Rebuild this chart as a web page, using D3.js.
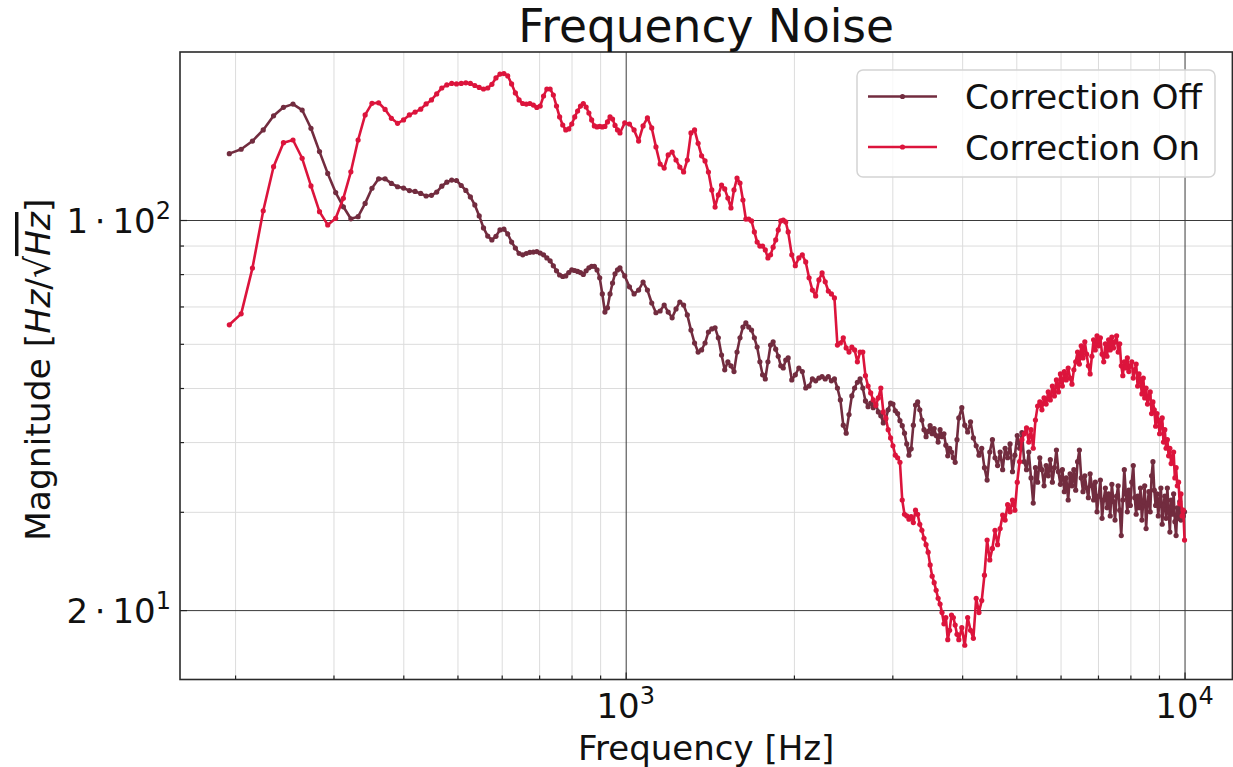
<!DOCTYPE html>
<html>
<head>
<meta charset="utf-8">
<script src="https://cdn.jsdelivr.net/npm/d3@7"></script>
<style>
  body { margin: 0; background: #fff; }
  svg { display: block; font-family: "DejaVu Sans", sans-serif; }
</style>
</head>
<body>
<svg id="drawing_region"></svg>
<script>
// FFT bin width and the bins kept for each segment of the spectrum
const binHz = 10000 / 1024;
const binStart = [20, 102, 203, 404];
const binStep = [1, 2, 3, 5];

// Correction Off magnitudes [Hz/sqrt(Hz)]
const offLow = [131.5, 133.9, 138.5, 145.0, 153.7, 159.2, 161.3, 157.4, 146.0, 132.6,
  121.2, 112.0, 105.6, 100.5, 101.4, 107.1, 114.0, 118.5, 118.5, 116.3,
  114.7, 114.1, 112.9, 112.5, 111.6, 110.4, 110.7, 112.2, 115.0, 116.9,
  117.9, 117.7, 115.3, 113.0, 110.0, 106.4, 101.7, 96.8, 93.6, 92.1,
  93.5, 96.0, 96.3, 94.4, 91.3, 89.1, 87.1, 86.6, 87.1, 87.5,
  87.6, 87.8, 87.2, 86.6, 85.5, 84.5, 82.8, 81.1, 79.7, 79.2,
  79.4, 80.5, 81.4, 81.2, 80.9, 80.5, 79.9, 81.1, 82.1, 82.6,
  82.6, 81.4, 78.8, 73.7, 68.4, 69.6, 73.7, 77.1, 80.1, 81.4, 82.1];
const offMid = [79.4, 75.9, 73.7, 74.9, 77.4, 74.9, 71.0, 68.2, 68.7, 70.4,
  68.4, 66.8, 69.3, 71.3, 70.4, 67.6, 63.5, 60.2, 58.0, 58.5,
  60.2, 63.0, 63.8, 64.1, 61.5, 57.3, 53.9, 55.7, 54.8, 53.5,
  58.0, 61.5, 64.3, 65.4, 64.3, 63.5, 61.5, 59.2, 55.7, 52.8,
  51.9, 55.7, 59.7, 60.5, 58.7, 57.0, 54.8, 54.3, 56.1, 56.6];
const offUpper = [51.7, 52.8, 54.3, 53.5, 50.0, 50.4, 51.9, 51.5, 52.1, 52.4,
  51.9, 52.4, 51.5, 51.9, 50.0, 47.6, 42.9, 41.5, 44.8, 48.4,
  50.0, 51.2, 51.9, 50.0, 47.4, 46.3, 47.0, 46.1, 46.8, 45.3,
  44.6, 43.3, 44.0, 45.7, 47.0, 46.8, 45.5, 45.0, 43.7, 42.8,
  41.5, 39.7, 37.9, 38.9, 42.9, 46.6, 47.2, 45.7, 43.8, 42.1,
  40.9, 41.8, 42.8, 41.4, 42.3, 41.1, 40.0, 42.1, 40.9, 41.4,
  39.5, 37.8, 39.0, 38.4, 37.5, 36.8, 40.4];
const offHigh = [44.2, 46.1, 42.9, 41.7, 43.5, 40.7, 39.4, 37.9, 39.0, 36.0,
  34.2, 38.4, 40.4, 37.5, 36.3, 38.4, 35.7, 39.0, 37.5, 39.7,
  35.4, 37.9, 41.1, 39.0, 41.6, 36.9, 35.7, 38.4, 34.5, 31.1,
  36.0, 33.9, 37.5, 35.7, 33.4, 36.3, 34.8, 37.2, 33.9, 36.0,
  38.7, 35.4, 33.6, 35.7, 32.6, 34.5, 31.5, 35.1, 33.4, 35.7,
  32.8, 36.9, 38.7, 34.5, 32.6, 34.8, 33.1, 31.8, 35.1, 33.4,
  31.5, 33.9, 30.0, 32.0, 34.2, 29.2, 31.5, 33.1, 30.5, 32.3,
  29.5, 33.6, 31.3, 29.0, 32.0, 33.4, 30.2, 27.2, 31.5, 35.7,
  32.3, 30.0, 32.8, 30.8, 33.9, 36.3, 31.8, 29.7, 32.0, 30.5,
  33.1, 29.0, 31.3, 33.4, 28.0, 31.0, 32.6, 30.0, 34.8, 36.9,
  32.8, 30.8, 32.3, 29.5, 31.5, 33.1, 28.5, 30.8, 32.0, 29.2,
  33.1, 30.2, 27.6, 31.5, 29.7, 32.3, 28.8, 27.2, 30.5, 29.2,
  31.3, 29.0, 30.2, 29.5, 30.0];

// Correction On magnitudes [Hz/sqrt(Hz)]
const onLow = [64.9, 67.9, 82.0, 103.9, 124.6, 137.6, 139.1, 129.0, 115.1, 103.5,
  98.0, 100.7, 109.4, 122.0, 139.1, 154.3, 161.8, 162.2, 157.8, 152.1,
  149.0, 151.1, 154.3, 156.1, 158.0, 161.4, 164.1, 168.2, 172.4, 174.6,
  175.7, 175.3, 175.7, 176.1, 175.7, 174.2, 172.8, 171.7, 172.4, 175.0,
  179.7, 182.6, 183.0, 181.2, 175.3, 168.9, 164.1, 161.7, 161.3, 161.7,
  160.7, 159.1, 160.0, 166.8, 171.7, 171.7, 167.5, 160.0, 153.0, 148.0,
  145.0, 145.6, 148.6, 153.0, 156.8, 160.0, 161.7, 159.4, 155.5, 151.1,
  147.4, 146.8, 147.1, 146.8, 147.1, 149.9, 153.0, 151.7, 147.7, 145.0, 143.2];
const onMid = [149.3, 148.6, 145.0, 138.5, 147.4, 152.4, 146.2, 135.2, 126.0, 123.9,
  130.8, 132.4, 128.1, 124.4, 121.9, 128.1, 143.2, 145.0, 137.2, 130.3,
  127.6, 121.9, 113.2, 105.5, 110.9, 115.5, 113.7, 109.5, 105.1, 113.2,
  118.9, 116.5, 108.6, 100.4, 100.4, 99.6, 95.2, 91.3, 89.8, 89.8,
  88.4, 85.5, 86.6, 89.4, 92.1, 96.0, 99.6, 100.0, 99.2, 95.2];
const onUpper = [86.6, 82.8, 85.5, 86.6, 84.1, 78.8, 74.9, 73.1, 78.1, 80.4,
  77.5, 74.6, 73.7, 72.5, 59.7, 60.2, 61.5, 59.0, 58.0, 59.2,
  58.5, 55.7, 58.0, 58.0, 52.6, 50.4, 49.0, 47.6, 46.5, 48.0,
  50.0, 45.3, 44.2, 42.1, 40.7, 39.4, 37.9, 37.5, 36.8, 31.5,
  29.7, 29.5, 29.1, 29.4, 28.7, 30.2, 29.7, 28.5, 27.8, 26.9,
  26.2, 25.4, 24.1, 23.0, 22.4, 21.7, 21.0, 20.5, 19.8, 18.9,
  19.4, 17.7, 18.4, 19.6, 19.4, 18.8, 18.1];
const onHigh = [17.7, 18.6, 17.3, 19.4, 18.4, 17.8, 21.0, 19.8, 20.8, 23.1,
  26.7, 24.6, 25.8, 27.8, 26.2, 28.0, 29.6, 29.0, 30.9, 30.0,
  31.5, 30.2, 33.9, 36.9, 40.4, 41.4, 42.4, 40.0, 42.1, 39.0,
  43.8, 46.4, 47.2, 45.7, 48.0, 46.8, 49.2, 47.6, 50.4, 48.4,
  51.7, 49.2, 53.0, 50.4, 53.5, 51.7, 54.3, 52.1, 50.8, 53.9,
  55.7, 58.0, 55.2, 59.5, 56.6, 60.5, 57.5, 54.8, 53.0, 57.0,
  61.0, 58.5, 62.0, 59.5, 61.5, 57.5, 55.7, 60.0, 57.0, 61.0,
  58.5, 61.7, 59.0, 60.5, 62.0, 58.0, 60.0, 54.8, 52.6, 55.7,
  54.3, 56.6, 53.5, 54.8, 55.7, 52.1, 53.9, 55.2, 50.4, 53.0,
  51.3, 48.8, 52.1, 48.0, 50.0, 46.8, 48.4, 49.2, 45.0, 47.2,
  45.7, 42.7, 45.0, 43.8, 41.4, 43.1, 44.2, 40.0, 42.1, 39.0,
  40.4, 37.8, 39.0, 36.6, 37.5, 38.4, 34.5, 36.0, 33.4, 33.9,
  31.0, 32.3, 29.5, 30.2, 26.7];

const seriesNames = ["Correction Off", "Correction On"];
const seriesColors = ["#722c3f", "#dc143c"];

// axes
const xDomain = [159.4, 12180];
const yDomain = [15.02, 200];
const xMajorTicks = [1000, 10000];
const xTickLabels = [["10", "3"], ["10", "4"]];
const xMinorTicks = [200, 300, 400, 500, 600, 700, 800, 900, 2000, 3000, 4000, 5000, 6000, 7000, 8000, 9000];
const yMajorTicks = [20, 100];
const yTickLabels = [["2\u2009\u22c5\u200910", "1"], ["1\u2009\u22c5\u200910", "2"]];
const yMinorTicks = [30, 40, 50, 60, 70, 80, 90];

function buildSeries(segments) {
    let pts = [];
    segments.forEach((vals, i) => {
        vals.forEach((v, j) => {
            pts.push({ f: (binStart[i] + j * binStep[i]) * binHz, v: v });
        });
    });
    return pts;
}

const data = [
    buildSeries([offLow, offMid, offUpper, offHigh]),
    buildSeries([onLow, onMid, onUpper, onHigh])
];

var config = {
    width: 1233,
    height: 767,
    margin: { top: 52, right: 0.6, bottom: 87.5, left: 180 }
};

const W = config.width, H = config.height, m = config.margin;
const iw = W - m.left - m.right;
const ih = H - m.top - m.bottom;
const fs = 34;

const svg = d3.select('#drawing_region')
    .attr('width', W)
    .attr('height', H);

const chart = svg.append('g')
    .attr('transform', `translate(${m.left}, ${m.top})`);

const xscale = d3.scaleLog().domain(xDomain).range([0, iw]);
const yscale = d3.scaleLog().domain(yDomain).range([ih, 0]);

// grid lines
function gridStyle(g, color) {
    g.select('.domain').remove();
    g.selectAll('.tick line').attr('stroke', color).attr('stroke-width', 1);
}
chart.append('g')
    .call(d3.axisBottom(xscale).tickValues(xMinorTicks).tickSize(ih).tickFormat(''))
    .call(g => gridStyle(g, '#dcdcdc'));
chart.append('g')
    .call(d3.axisLeft(yscale).tickValues(yMinorTicks).tickSize(-iw).tickFormat(''))
    .call(g => gridStyle(g, '#dcdcdc'));
chart.append('g')
    .call(d3.axisBottom(xscale).tickValues(xMajorTicks).tickSize(ih).tickFormat(''))
    .call(g => gridStyle(g, '#3a3a3a'));
chart.append('g')
    .call(d3.axisLeft(yscale).tickValues(yMajorTicks).tickSize(-iw).tickFormat(''))
    .call(g => gridStyle(g, '#3a3a3a'));

// inward ticks
function tickStyle(g) {
    g.select('.domain').remove();
    g.selectAll('.tick line').attr('stroke', '#222').attr('stroke-width', 1.2);
}
chart.append('g').attr('transform', `translate(0, ${ih})`)
    .call(d3.axisBottom(xscale).tickValues(xMinorTicks).tickSizeInner(-4).tickSizeOuter(0).tickFormat(''))
    .call(tickStyle);
chart.append('g').attr('transform', `translate(0, ${ih})`)
    .call(d3.axisBottom(xscale).tickValues(xMajorTicks).tickSizeInner(-7).tickSizeOuter(0).tickFormat(''))
    .call(tickStyle);
chart.append('g')
    .call(d3.axisLeft(yscale).tickValues(yMinorTicks).tickSizeInner(-4).tickSizeOuter(0).tickFormat(''))
    .call(tickStyle);
chart.append('g')
    .call(d3.axisLeft(yscale).tickValues(yMajorTicks).tickSizeInner(-7).tickSizeOuter(0).tickFormat(''))
    .call(tickStyle);

// tick labels with superscripts
const xl = chart.append('g').selectAll('text')
    .data(xMajorTicks)
    .join('text')
    .attr('x', d => xscale(d))
    .attr('y', ih + 38.5)
    .attr('text-anchor', 'middle')
    .attr('font-size', fs)
    .attr('fill', '#111');
xl.append('tspan').text((d, i) => xTickLabels[i][0]);
xl.append('tspan').attr('dy', -14).attr('font-size', 24).text((d, i) => xTickLabels[i][1]);

const yl = chart.append('g').selectAll('text')
    .data(yMajorTicks)
    .join('text')
    .attr('x', -9)
    .attr('y', d => yscale(d) + 12.5)
    .attr('text-anchor', 'end')
    .attr('font-size', fs)
    .attr('fill', '#111');
yl.append('tspan').text((d, i) => yTickLabels[i][0]);
yl.append('tspan').attr('dy', -14).attr('font-size', 24).text((d, i) => yTickLabels[i][1]);

// series
const line = d3.line()
    .x(d => xscale(d.f))
    .y(d => yscale(d.v));

data.forEach((pts, i) => {
    const g = chart.append('g');
    g.append('path')
        .datum(pts)
        .attr('d', line)
        .attr('fill', 'none')
        .attr('stroke', seriesColors[i])
        .attr('stroke-width', 2.6)
        .attr('stroke-linejoin', 'round');
    g.selectAll('circle')
        .data(pts)
        .join('circle')
        .attr('cx', d => xscale(d.f))
        .attr('cy', d => yscale(d.v))
        .attr('r', 2.6)
        .attr('fill', seriesColors[i]);
});

// spines
chart.append('rect')
    .attr('width', iw)
    .attr('height', ih)
    .attr('fill', 'none')
    .attr('stroke', '#2a2a2a')
    .attr('stroke-width', 1.6);

// title and axis labels
svg.append('text')
    .attr('x', m.left + iw / 2)
    .attr('y', 42)
    .attr('text-anchor', 'middle')
    .attr('font-size', 45.5)
    .attr('fill', '#111')
    .text('Frequency Noise');

svg.append('text')
    .attr('x', m.left + iw / 2)
    .attr('y', 760)
    .attr('text-anchor', 'middle')
    .attr('font-size', fs)
    .attr('fill', '#111')
    .text('Frequency [Hz]');

const ylab = svg.append('text')
    .attr('transform', `translate(50, ${m.top + ih / 2 + 4}) rotate(-90)`)
    .attr('text-anchor', 'middle')
    .attr('font-size', 34.5)
    .attr('fill', '#111');
ylab.append('tspan').text('Magnitude [');
ylab.append('tspan').attr('font-style', 'italic').text('Hz');
ylab.append('tspan').text('/\u221a');
ylab.append('tspan').attr('font-style', 'italic').style('text-decoration', 'overline').text('Hz');
ylab.append('tspan').text(']');

// legend
const legend = svg.append('g');
legend.append('rect')
    .attr('x', 857).attr('y', 70)
    .attr('width', 358).attr('height', 107)
    .attr('rx', 6)
    .attr('fill', 'white').attr('fill-opacity', 0.8)
    .attr('stroke', '#d4d4d4').attr('stroke-width', 1.5);

seriesNames.forEach((name, i) => {
    const ly = 96.5 + i * 50.5;
    legend.append('line')
        .attr('x1', 868).attr('x2', 937)
        .attr('y1', ly).attr('y2', ly)
        .attr('stroke', seriesColors[i]).attr('stroke-width', 2.6);
    legend.append('circle')
        .attr('cx', 902.5).attr('cy', ly).attr('r', 2.6)
        .attr('fill', seriesColors[i]);
    legend.append('text')
        .attr('x', 965).attr('y', ly + 12.5)
        .attr('font-size', 34)
        .attr('fill', '#111')
        .text(name);
});
</script>
</body>
</html>
